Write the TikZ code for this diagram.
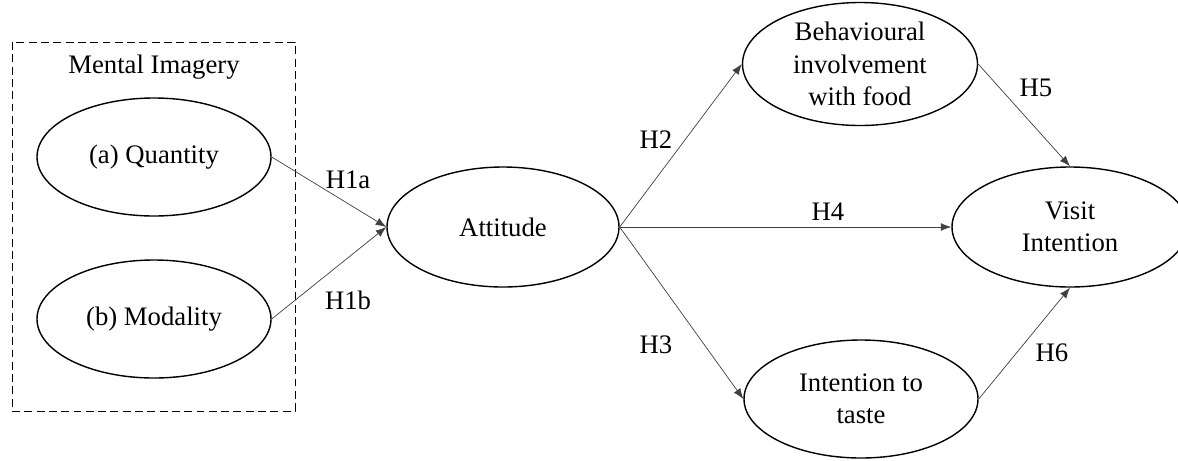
\documentclass[tikz,border=0pt]{standalone}
\usepackage{fontspec}
\setmainfont{Liberation Serif}
\usetikzlibrary{shapes.geometric, arrows.meta}
\tikzstyle{construct} = [draw, line width=0.8pt, ellipse, inner sep=0, align=center, minimum width=4.68cm, minimum height=2.36cm]
\tikzstyle{path} = [draw=black!75, line width=0.4pt, -{Latex[length=6pt, width=4.5pt]}]

\begin{document}
\begin{tikzpicture}[font=\fontsize{15.2}{18.5}\selectfont]
      \useasboundingbox (0, 0) rectangle (23.56, -9.2);
      \draw[line width=0.5pt, dash pattern=on 4.5pt off 2.5pt] (0.24, -0.84) rectangle (5.9, -8.22);
      \node (imagery) at (3.08, -1.34) {Mental Imagery};

      \node[construct] (quantity) at (3.08, -3.14) {(a) Quantity};
      \node[construct] (modality) at (3.08, -6.38) {(b) Modality};
      \node[construct, minimum width=4.64cm, minimum height=2.4cm] (attitude) at (10.06, -4.54) {Attitude};
      \node[construct, minimum width=4.7cm, minimum height=2.46cm] (involvement) at (17.2, -1.28) {Behavioural\\involvement\\with food};
      \node[construct, minimum height=2.36cm] (taste) at (17.22, -7.98) {Intention to\\taste};
      \node[construct, minimum width=4.72cm, minimum height=2.4cm] (visit) at (21.4, -4.54) {Visit\\Intention};

      \node (h1a) at (6.96, -3.6) {H1a};
      \node (h1b) at (6.96, -6.0) {H1b};
      \node (h2) at (13.12, -2.8) {H2};
      \node (h3) at (13.12, -6.9) {H3};
      \node (h4) at (16.56, -4.24) {H4};
      \node (h5) at (20.72, -1.76) {H5};
      \node (h6) at (21.04, -7.06) {H6};

      \draw[path] (quantity.east) -- (attitude.west);
      \draw[path] (modality.east) -- (attitude.west);
      \draw[path] (attitude.east) -- (involvement.west);
      \draw[path] (attitude.east) -- (visit.west);
      \draw[path] (attitude.east) -- (taste.west);
      \draw[path] (involvement.east) -- (visit.north);
      \draw[path] (taste.east) -- (visit.south);
    \end{tikzpicture}
\end{document}
